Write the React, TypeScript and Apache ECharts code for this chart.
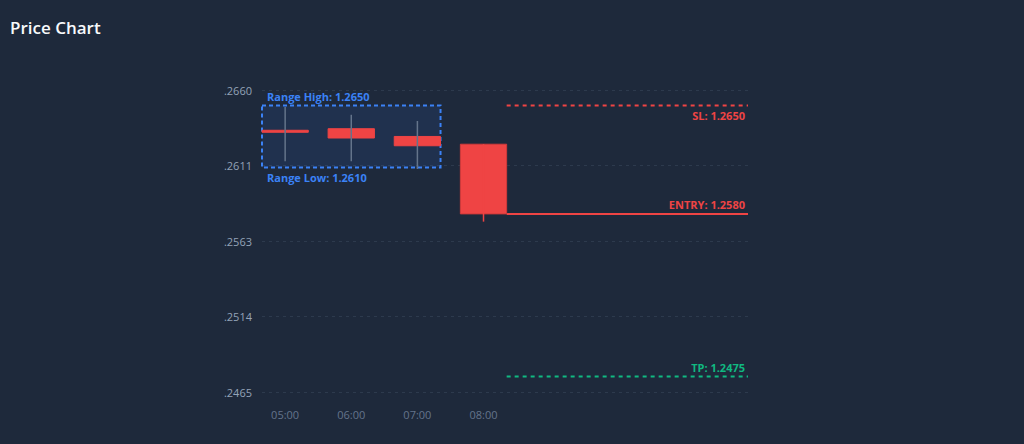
import React, { useEffect, useRef } from "react";
import * as echarts from "echarts";

// ---- data ----
const times = ["05:00", "06:00", "07:00", "08:00"];
const opens = [1.2634, 1.2635, 1.263, 1.2625];
const closes = [1.2633, 1.2629, 1.2624, 1.258];
const lows = [1.2614, 1.2614, 1.2609, 1.2575];
const highs = [1.2649, 1.2644, 1.264, 1.2625];

const rangeHigh = 1.265;
const rangeLow = 1.261;
const rangeCount = 3;

const levelNames = ["SL", "ENTRY", "TP"];
const levelValues = [1.265, 1.258, 1.2475];
const entryIndex = 3;

const yTicks = [1.2465, 1.251375, 1.25625, 1.261125, 1.266];
const yTickLabels = [".2465", ".2514", ".2563", ".2611", ".2660"];
const xTicks = [0, 1, 2, 3];

// ---- styles ----
const BG = "#1e293b";
const RED = "#ef4444";
const GREEN = "#10b981";
const BLUE = "#3b82f6";
const FONT = '"Open Sans", "Noto Sans", sans-serif';
const BODY_W = 0.7;

const levelStyle: Record<string, { color: string; dashed: boolean; dy: number }> = {
  SL: { color: RED, dashed: true, dy: 10 },
  ENTRY: { color: RED, dashed: false, dy: -9 },
  TP: { color: GREEN, dashed: true, dy: -9 },
};

export default function App() {
  const ref = useRef<HTMLDivElement>(null);

  useEffect(() => {
    if (!ref.current) return;
    const chart = echarts.init(ref.current, null, { renderer: "svg" });

    const candleData = times.map((_, i) => [i, opens[i], closes[i], lows[i], highs[i]]);

    const option: any = {
      animation: false,
      backgroundColor: BG,
      title: {
        text: "Price Chart",
        left: 5,
        top: 14,
        textStyle: { color: "#f8fafc", fontSize: 17, fontWeight: 600, fontFamily: FONT },
      },
      grid: { left: 262, right: 276, top: 90, bottom: 52 },
      xAxis: {
        type: "value",
        min: -BODY_W / 2,
        max: 7,
        axisLine: { show: false },
        axisTick: { show: false, customValues: xTicks },
        splitLine: { show: false },
        axisLabel: {
          customValues: xTicks,
          color: "#64748b",
          fontSize: 11,
          fontFamily: FONT,
          margin: 17,
          formatter: (v: number) => times[Math.round(v)] ?? "",
        },
      },
      yAxis: {
        type: "value",
        min: yTicks[0],
        max: yTicks[yTicks.length - 1],
        axisLine: { show: false },
        axisTick: { show: false, customValues: yTicks },
        axisLabel: {
          customValues: yTicks,
          color: "#94a3b8",
          fontSize: 11,
          fontFamily: FONT,
          margin: 10,
          formatter: (v: number) => {
            let best = 0;
            yTicks.forEach((t, i) => {
              if (Math.abs(t - v) < Math.abs(yTicks[best] - v)) best = i;
            });
            return yTickLabels[best];
          },
        },
        splitLine: { lineStyle: { color: "#334155", opacity: 0.7, type: [3, 4], width: 1 } },
      },
      series: [
        {
          type: "custom",
          name: "range",
          data: [[0, rangeHigh, rangeLow]],
          z: 1,
          renderItem: (params: any, api: any) => {
            const p1 = api.coord([-BODY_W / 2, rangeHigh]);
            const p2 = api.coord([rangeCount - 1 + BODY_W / 2, rangeLow]);
            return {
              type: "group",
              children: [
                {
                  type: "rect",
                  shape: { x: p1[0], y: p1[1], width: p2[0] - p1[0], height: p2[1] - p1[1] },
                  style: { fill: "rgba(59,130,246,0.1)", stroke: BLUE, lineWidth: 2, lineDash: [4, 3] },
                },
                {
                  type: "text",
                  x: p1[0] + 5,
                  y: p1[1] - 9,
                  style: {
                    text: "Range High: " + rangeHigh.toFixed(4),
                    fill: BLUE,
                    font: `bold 11px ${FONT}`,
                    align: "left",
                    verticalAlign: "middle",
                  },
                },
                {
                  type: "text",
                  x: p1[0] + 5,
                  y: p2[1] + 10,
                  style: {
                    text: "Range Low: " + rangeLow.toFixed(4),
                    fill: BLUE,
                    font: `bold 11px ${FONT}`,
                    align: "left",
                    verticalAlign: "middle",
                  },
                },
              ],
            };
          },
        },
        {
          type: "custom",
          name: "levels",
          data: levelValues.map((v, i) => [i, v]),
          z: 2,
          renderItem: (params: any, api: any) => {
            const i = api.value(0);
            const v = api.value(1);
            const name = levelNames[i];
            const st = levelStyle[name];
            const p = api.coord([entryIndex + BODY_W / 2, v]);
            const xEnd = params.coordSys.x + params.coordSys.width;
            return {
              type: "group",
              children: [
                {
                  type: "line",
                  shape: { x1: p[0], y1: p[1], x2: xEnd, y2: p[1] },
                  style: { stroke: st.color, lineWidth: 2, lineDash: st.dashed ? [4, 4] : null },
                },
                {
                  type: "text",
                  x: xEnd - 3,
                  y: p[1] + st.dy,
                  style: {
                    text: `${name}: ${v.toFixed(4)}`,
                    fill: st.color,
                    font: `bold 11px ${FONT}`,
                    align: "right",
                    verticalAlign: "middle",
                  },
                },
              ],
            };
          },
        },
        {
          type: "custom",
          name: "candles",
          data: candleData,
          z: 3,
          renderItem: (params: any, api: any) => {
            const i = api.value(0);
            const o = api.value(1);
            const c = api.value(2);
            const l = api.value(3);
            const h = api.value(4);
            const w = api.size([BODY_W, 0])[0];
            const pO = api.coord([i, o]);
            const pC = api.coord([i, c]);
            const pL = api.coord([i, l]);
            const pH = api.coord([i, h]);
            const top = Math.min(pO[1], pC[1]);
            const hgt = Math.max(Math.abs(pO[1] - pC[1]), 2);
            const wickColor = i < rangeCount ? "#64748b" : RED;
            return {
              type: "group",
              children: [
                {
                  type: "rect",
                  shape: { x: pO[0] - w / 2, y: top, width: w, height: hgt },
                  style: { fill: RED, stroke: i < rangeCount ? RED : "#d23a3a", lineWidth: 1 },
                },
                {
                  type: "line",
                  shape: { x1: pH[0], y1: pH[1], x2: pL[0], y2: pL[1] },
                  style: { stroke: wickColor, lineWidth: 1.5 },
                },
              ],
            };
          },
        },
      ],
    };

    chart.setOption(option);
    return () => chart.dispose();
  }, []);

  return (
    <div
      ref={ref}
      style={{ position: "absolute", left: 0, top: 0, width: 1024, height: 444, background: BG }}
    />
  );
}
